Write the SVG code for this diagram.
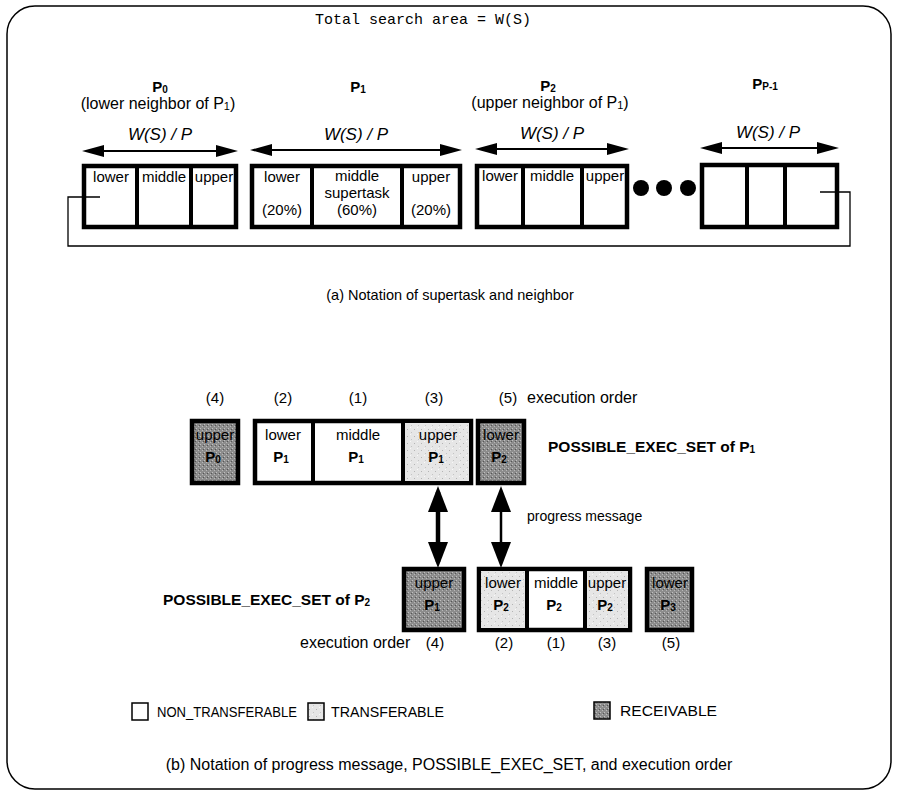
<svg xmlns="http://www.w3.org/2000/svg" width="897" height="795" viewBox="0 0 897 795">
<defs>
<style>
text{font-family:"Liberation Sans",Arial,sans-serif;fill:#000}
.t14{font-size:14px}
.t15{font-size:15px}
.t16{font-size:16px}
.b{font-weight:bold}
.it{font-style:italic;font-size:17px}
.mono{font-family:"Liberation Mono","Courier New",monospace;font-size:15px}
.mid{text-anchor:middle}
.box{stroke:#000;stroke-width:4.5;fill:#fff}
.div{stroke:#000;stroke-width:4}
.light{fill:url(#lightPat)}
.dark{fill:url(#darkPat)}
.thin{fill:none;stroke:#000;stroke-width:1.3}
.harr{stroke:#000;stroke-width:2;fill:none;marker-start:url(#ah);marker-end:url(#ah)}
.varr{stroke:#000;fill:none;marker-start:url(#vh);marker-end:url(#vh)}
</style>
<pattern id="lightPat" patternUnits="userSpaceOnUse" width="7" height="7">
<rect width="7" height="7" fill="#e6e6e6"/>
<rect x="1" y="2" width="1" height="1" fill="#b4b4b4"/>
<rect x="5" y="5" width="1" height="1" fill="#c4c4c4"/>
<rect x="4" y="0" width="1" height="1" fill="#f8f8f8"/>
</pattern>
<pattern id="darkPat" patternUnits="userSpaceOnUse" width="4" height="4">
<rect width="4" height="4" fill="#8c8c8c"/>
<rect x="0" y="0" width="1" height="1" fill="#c0c0c0"/>
<rect x="2" y="2" width="1" height="1" fill="#b8b8b8"/>
<rect x="3" y="1" width="1" height="1" fill="#555"/>
</pattern>
<marker id="ah" markerUnits="userSpaceOnUse" markerWidth="22" markerHeight="12" refX="16" refY="6" orient="auto-start-reverse">
<path d="M0,0 L22,6 L0,12 z" fill="#000"/>
</marker>
<marker id="vh" markerUnits="userSpaceOnUse" markerWidth="26" markerHeight="20" refX="20" refY="10" orient="auto-start-reverse">
<path d="M0,0 L26,10 L0,20 z" fill="#000"/>
</marker>
</defs>

<rect x="7" y="6" width="884" height="783" rx="28" ry="28" fill="#fff" stroke="#000" stroke-width="1.5"/>

<text class="mono mid" x="423" y="24">Total search area = W(S)</text>

<!-- (a) top row -->
<g id="P0">
<text class="t15 b mid" x="160" y="92">P<tspan font-size="10" dy="1">0</tspan></text>
<text class="t16 mid" x="158" y="109">(lower neighbor of P<tspan font-size="11" dy="1">1</tspan><tspan dy="-1">)</tspan></text>
<text class="it mid" x="160" y="140">W(S) / P</text>
<rect class="box" x="84" y="166" width="152" height="61"/>
<line class="div" x1="137" y1="166" x2="137" y2="227"/>
<line class="div" x1="191" y1="166" x2="191" y2="227"/>
<text class="t15 mid" x="111" y="182">lower</text>
<text class="t15 mid" x="164" y="182">middle</text>
<text class="t15 mid" x="214" y="182">upper</text>
</g>

<g id="P1">
<text class="t15 b mid" x="358" y="92">P<tspan font-size="10" dy="1">1</tspan></text>
<text class="it mid" x="356" y="140">W(S) / P</text>
<rect class="box" x="252" y="166" width="208" height="61"/>
<line class="div" x1="312" y1="166" x2="312" y2="227"/>
<line class="div" x1="402" y1="166" x2="402" y2="227"/>
<text class="t15 mid" x="282" y="182">lower</text>
<text class="t15 mid" x="282" y="215">(20%)</text>
<text class="t15 mid" x="357" y="181">middle</text>
<text class="t15 mid" x="357" y="198">supertask</text>
<text class="t15 mid" x="357" y="215">(60%)</text>
<text class="t15 mid" x="431" y="182">upper</text>
<text class="t15 mid" x="431" y="215">(20%)</text>
</g>

<g id="P2">
<text class="t15 b mid" x="548" y="91">P<tspan font-size="10" dy="1">2</tspan></text>
<text class="t16 mid" x="550" y="108">(upper neighbor of P<tspan font-size="11" dy="1">1</tspan><tspan dy="-1">)</tspan></text>
<text class="it mid" x="552" y="139">W(S) / P</text>
<rect class="box" x="477" y="166" width="150" height="61"/>
<line class="div" x1="523" y1="166" x2="523" y2="227"/>
<line class="div" x1="582" y1="166" x2="582" y2="227"/>
<text class="t15 mid" x="500" y="181">lower</text>
<text class="t15 mid" x="552" y="181">middle</text>
<text class="t15 mid" x="605" y="181">upper</text>
</g>

<g id="dots">
<circle cx="641" cy="188" r="8" fill="#000"/>
<circle cx="664" cy="188" r="8" fill="#000"/>
<circle cx="688" cy="188" r="8" fill="#000"/>
</g>

<g id="Pp-1">
<text class="t15 b mid" x="765" y="89">P<tspan font-size="10" dy="1">P-1</tspan></text>
<text class="it mid" x="768" y="138">W(S) / P</text>
<rect class="box" x="702" y="165" width="135" height="62"/>
<line class="div" x1="747" y1="165" x2="747" y2="227"/>
<line class="div" x1="785" y1="165" x2="785" y2="227"/>
</g>

<g id="connectors-a">
<path class="harr" d="M88,151 H232"/>
<path class="harr" d="M256,150 H456"/>
<path class="harr" d="M481,149 H623"/>
<path class="harr" d="M706,148 H833"/>
<path class="thin" d="M100,197 H68 V246 H850 V192 H820"/>
</g>

<text class="mid" font-size="14.5" x="450" y="300">(a) Notation of supertask and neighbor</text>

<!-- (b) -->
<g id="order-top">
<text class="t15 mid" x="215" y="403">(4)</text>
<text class="t15 mid" x="283" y="403">(2)</text>
<text class="t15 mid" x="358" y="403">(1)</text>
<text class="t15 mid" x="434" y="403">(3)</text>
<text class="t15 mid" x="508" y="403">(5)</text>
<text class="t16" x="527" y="403">execution order</text>
</g>

<g id="upperP0">
<rect class="box dark" x="192" y="421" width="46" height="62"/>
<text class="t15 mid" x="215" y="440">upper</text>
<text class="t15 b mid" x="213" y="462">P<tspan font-size="10" dy="1">0</tspan></text>
</g>

<g id="setP1">
<rect class="box" x="255" y="421" width="216" height="62"/>
<rect class="light" x="403" y="423" width="66" height="58"/>
<line class="div" x1="313" y1="421" x2="313" y2="483"/>
<line class="div" x1="403" y1="421" x2="403" y2="483"/>
<text class="t15 mid" x="283" y="440">lower</text>
<text class="t15 b mid" x="281" y="462">P<tspan font-size="10" dy="1">1</tspan></text>
<text class="t15 mid" x="358" y="440">middle</text>
<text class="t15 b mid" x="356" y="462">P<tspan font-size="10" dy="1">1</tspan></text>
<text class="t15 mid" x="438" y="440">upper</text>
<text class="t15 b mid" x="436" y="462">P<tspan font-size="10" dy="1">1</tspan></text>
</g>

<g id="lowerP2">
<rect class="box dark" x="478" y="421" width="46" height="62"/>
<text class="t15 mid" x="501" y="440">lower</text>
<text class="t15 b mid" x="499" y="462">P<tspan font-size="10" dy="1">2</tspan></text>
</g>

<text class="b" font-size="15.5" x="548" y="452">POSSIBLE_EXEC_SET of P<tspan font-size="10" dy="1">1</tspan></text>

<g id="connectors-b">
<path class="varr" stroke-width="4.5" d="M438,492 V562"/>
<path class="varr" stroke-width="2.5" d="M501,492 V562"/>
</g>
<text class="t14" x="527" y="521">progress message</text>

<text class="b" font-size="15.5" x="163" y="605">POSSIBLE_EXEC_SET of P<tspan font-size="10" dy="1">2</tspan></text>

<g id="upperP1">
<rect class="box dark" x="404" y="569" width="60" height="61"/>
<text class="t15 mid" x="434" y="588">upper</text>
<text class="t15 b mid" x="432" y="610">P<tspan font-size="10" dy="1">1</tspan></text>
</g>

<g id="setP2">
<rect class="box" x="479" y="569" width="151" height="61"/>
<rect class="light" x="481" y="571" width="46" height="57"/>
<rect class="light" x="585" y="571" width="43" height="57"/>
<line class="div" x1="527" y1="569" x2="527" y2="630"/>
<line class="div" x1="585" y1="569" x2="585" y2="630"/>
<text class="t15 mid" x="503" y="588">lower</text>
<text class="t15 b mid" x="501" y="610">P<tspan font-size="10" dy="1">2</tspan></text>
<text class="t15 mid" x="556" y="588">middle</text>
<text class="t15 b mid" x="554" y="610">P<tspan font-size="10" dy="1">2</tspan></text>
<text class="t15 mid" x="607" y="588">upper</text>
<text class="t15 b mid" x="605" y="610">P<tspan font-size="10" dy="1">2</tspan></text>
</g>

<g id="lowerP3">
<rect class="box dark" x="647" y="569" width="45" height="61"/>
<text class="t15 mid" x="670" y="588">lower</text>
<text class="t15 b mid" x="668" y="610">P<tspan font-size="10" dy="1">3</tspan></text>
</g>

<g id="order-bottom">
<text class="t16" x="300" y="648">execution order</text>
<text class="t15 mid" x="435" y="648">(4)</text>
<text class="t15 mid" x="504" y="648">(2)</text>
<text class="t15 mid" x="556" y="648">(1)</text>
<text class="t15 mid" x="607" y="648">(3)</text>
<text class="t15 mid" x="671" y="648">(5)</text>
</g>

<g id="legend">
<rect x="132" y="703" width="16" height="17" fill="#fff" stroke="#000" stroke-width="1.5"/>
<text class="t14" x="157" y="717" textLength="140" lengthAdjust="spacingAndGlyphs">NON_TRANSFERABLE</text>
<rect x="308" y="703" width="16" height="17" class="light" stroke="#000" stroke-width="1.5"/>
<text class="t14" x="331" y="717" textLength="113" lengthAdjust="spacingAndGlyphs">TRANSFERABLE</text>
<rect x="594" y="702" width="16" height="17" class="dark" stroke="#000" stroke-width="1.5"/>
<text class="t14" x="620" y="716" textLength="97" lengthAdjust="spacingAndGlyphs">RECEIVABLE</text>
</g>

<text class="t16 mid" x="449" y="770">(b) Notation of progress message, POSSIBLE_EXEC_SET, and execution order</text>
</svg>
